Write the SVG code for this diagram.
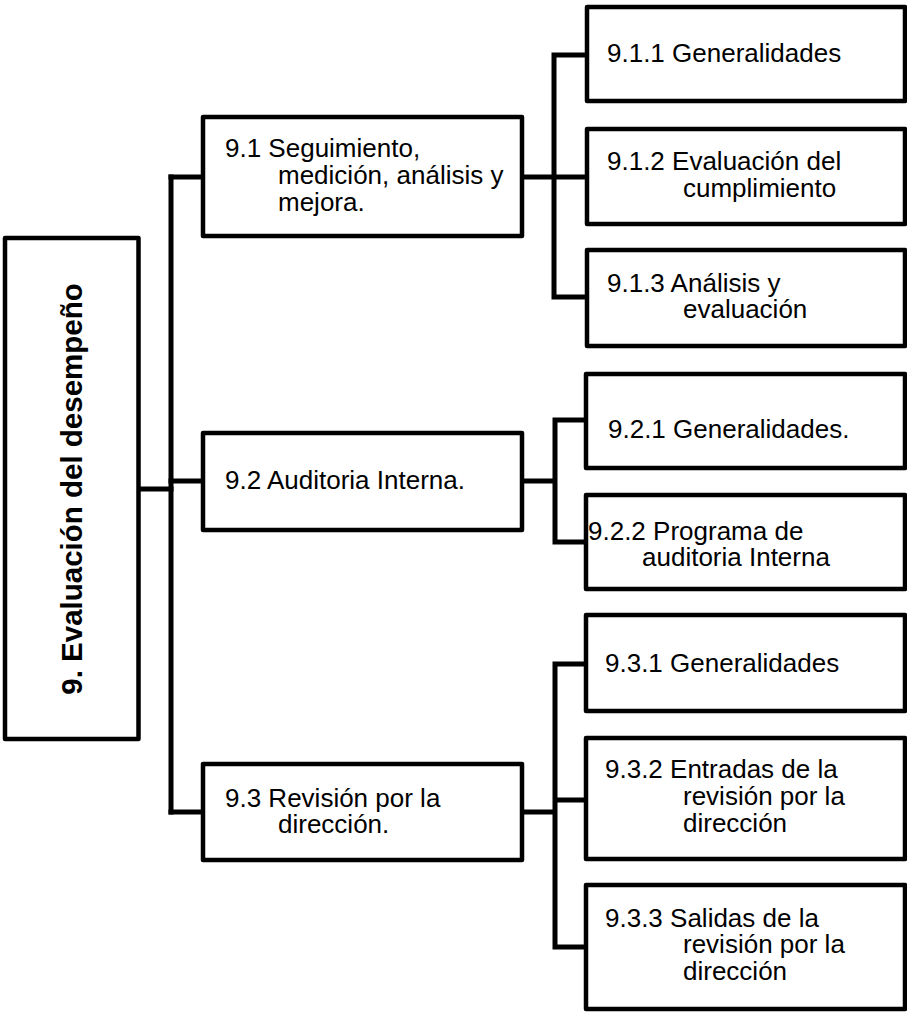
<svg xmlns="http://www.w3.org/2000/svg" width="907" height="1012" viewBox="0 0 907 1012">
  <style>
    .box { fill: #ffffff; stroke: #000000; stroke-width: 4.5; stroke-linejoin: round; }
    .wire { fill: none; stroke: #000000; stroke-width: 5; stroke-linejoin: miter; stroke-linecap: square; }
    .lbl { font-family: "Liberation Sans", Arial, sans-serif; font-size: 26px; fill: #000000; }
    .title { font-family: "Liberation Sans", Arial, sans-serif; font-size: 29.5px; font-weight: bold; fill: #000000; }
  </style>
  <rect width="907" height="1012" fill="#ffffff"/>

  <!-- connectors -->
  <g id="connectors" class="wire">
    <path d="M138.5 489 H171"/>
    <path d="M171 177 V812"/>
    <path d="M171 177 H203 M171 481 H203 M171 812 H203"/>
    <path d="M522 177 H554 M554 55 V297 M554 55 H587 M554 177 H587 M554 297 H587"/>
    <path d="M522 481 H555 M555 420 V542 M555 420 H586 M555 542 H586"/>
    <path d="M522 812 H555 M555 664 V947 M555 664 H586 M555 800 H586 M555 947 H586"/>
  </g>

  <!-- root -->
  <g id="node-9">
    <rect class="box" x="5" y="238" width="133.5" height="501"/>
    <text class="title" x="0" y="0" text-anchor="middle" transform="translate(82 489) rotate(-90)">9. Evaluación del desempeño</text>
  </g>

  <!-- second level -->
  <g id="node-9-1">
    <rect class="box" x="203" y="117" width="319" height="119"/>
    <text class="lbl"><tspan x="225" y="157">9.1 Seguimiento,</tspan><tspan x="278" y="184">medición, análisis y</tspan><tspan x="278" y="211">mejora.</tspan></text>
  </g>
  <g id="node-9-2">
    <rect class="box" x="203" y="433" width="319" height="97"/>
    <text class="lbl" x="225" y="489">9.2 Auditoria Interna.</text>
  </g>
  <g id="node-9-3">
    <rect class="box" x="203" y="764" width="319" height="96"/>
    <text class="lbl"><tspan x="225" y="807">9.3 Revisión por la</tspan><tspan x="278" y="833">dirección.</tspan></text>
  </g>

  <!-- third level: 9.1 -->
  <g id="node-9-1-1">
    <rect class="box" x="587" y="7" width="318" height="94"/>
    <text class="lbl" x="607" y="62">9.1.1 Generalidades</text>
  </g>
  <g id="node-9-1-2">
    <rect class="box" x="587" y="129" width="318" height="95"/>
    <text class="lbl"><tspan x="607" y="170">9.1.2 Evaluación del</tspan><tspan x="683" y="197">cumplimiento</tspan></text>
  </g>
  <g id="node-9-1-3">
    <rect class="box" x="587" y="250" width="318" height="96"/>
    <text class="lbl"><tspan x="607" y="292">9.1.3 Análisis y</tspan><tspan x="683" y="318">evaluación</tspan></text>
  </g>

  <!-- third level: 9.2 -->
  <g id="node-9-2-1">
    <rect class="box" x="586" y="374" width="319" height="94"/>
    <text class="lbl" x="608" y="438">9.2.1 Generalidades.</text>
  </g>
  <g id="node-9-2-2">
    <rect class="box" x="586" y="495" width="319" height="94"/>
    <text class="lbl"><tspan x="588" y="540">9.2.2 Programa de</tspan><tspan x="642" y="566">auditoria Interna</tspan></text>
  </g>

  <!-- third level: 9.3 -->
  <g id="node-9-3-1">
    <rect class="box" x="586" y="615" width="319" height="96"/>
    <text class="lbl" x="605" y="672">9.3.1 Generalidades</text>
  </g>
  <g id="node-9-3-2">
    <rect class="box" x="586" y="738" width="319" height="121"/>
    <text class="lbl"><tspan x="605" y="778">9.3.2 Entradas de la</tspan><tspan x="683" y="805">revisión por la</tspan><tspan x="683" y="832">dirección</tspan></text>
  </g>
  <g id="node-9-3-3">
    <rect class="box" x="586" y="885" width="319" height="124"/>
    <text class="lbl"><tspan x="605" y="927">9.3.3 Salidas de la</tspan><tspan x="683" y="953">revisión por la</tspan><tspan x="683" y="980">dirección</tspan></text>
  </g>
</svg>
